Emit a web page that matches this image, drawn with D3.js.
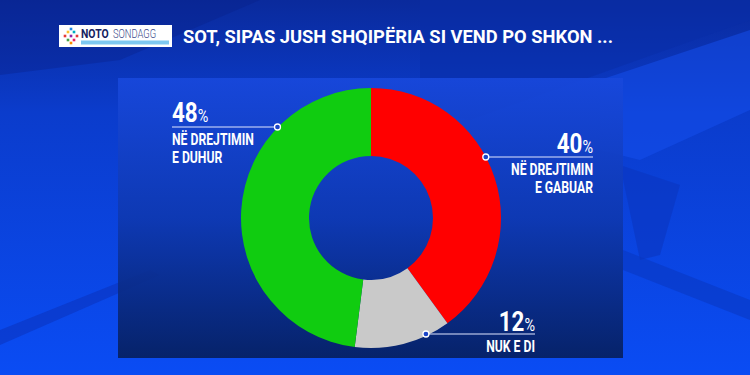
<!DOCTYPE html>
<html>
<head>
<meta charset="utf-8">
<script src="https://cdn.jsdelivr.net/npm/d3@7"></script>
<style>
  body { margin: 0; background: #0b40d8; }
  svg { display: block; }
  .cond { font-family: Roboto, "Noto Sans", sans-serif; font-weight: bold; }
</style>
</head>
<body>
<div id="chart"></div>
<script>
// chart data
var categories = ['NË DREJTIMIN E GABUAR', 'NUK E DI', 'NË DREJTIMIN E DUHUR'];
var values = [40, 12, 48];
var colors = ['#ff0000', '#c9c9c9', '#10cc10'];
var labelLines = [['NË DREJTIMIN', 'E GABUAR'], ['NUK E DI'], ['NË DREJTIMIN', 'E DUHUR']];
var title = 'SOT, SIPAS JUSH SHQIPËRIA SI VEND PO SHKON ...';

var svgWidth = 750;
var svgHeight = 375;

var svg = d3.select('#chart')
    .append('svg')
    .attr('width', svgWidth)
    .attr('height', svgHeight);

var defs = svg.append('defs');

// background gradient
var bg = defs.append('linearGradient').attr('id', 'bg')
    .attr('x1', 0).attr('y1', 0).attr('x2', 0).attr('y2', 1);
bg.append('stop').attr('offset', '0%').attr('stop-color', '#0a2a9c');
bg.append('stop').attr('offset', '30%').attr('stop-color', '#0b3ccc');
bg.append('stop').attr('offset', '100%').attr('stop-color', '#0a4cf4');

var panelGrad = defs.append('linearGradient').attr('id', 'panel')
    .attr('x1', 0).attr('y1', 0).attr('x2', 0).attr('y2', 1);
panelGrad.append('stop').attr('offset', '0%').attr('stop-color', '#1848dc');
panelGrad.append('stop').attr('offset', '50%').attr('stop-color', '#0e38b0');
panelGrad.append('stop').attr('offset', '100%').attr('stop-color', '#061f5e');

svg.append('rect')
    .attr('width', svgWidth)
    .attr('height', svgHeight)
    .attr('fill', 'url(#bg)');

// background shapes (studio backdrop)
var shapes = [
    { pts: [[420, 0], [750, 0], [750, 20], [470, 120], [420, 110]], fill: '#0a2ea8', op: 0.55 },
    { pts: [[600, 80], [750, 30], [750, 110], [640, 160], [600, 150]], fill: '#1550f0', op: 0.5 },
    { pts: [[620, 165], [680, 185], [660, 255], [640, 260]], fill: '#0a36c0', op: 0.6 },
    { pts: [[0, 330], [150, 270], [160, 275], [0, 345]], fill: '#0930b8', op: 0.5 },
    { pts: [[623, 250], [750, 300], [750, 320], [623, 270]], fill: '#0a36c0', op: 0.55 },
    { pts: [[0, 0], [260, 0], [120, 60], [0, 75]], fill: '#081f88', op: 0.35 }
];
svg.selectAll('.bgshape')
    .data(shapes)
    .enter()
    .append('polygon')
    .attr('class', 'bgshape')
    .attr('points', d => d.pts.map(p => p.join(',')).join(' '))
    .attr('fill', d => d.fill)
    .attr('opacity', d => d.op);

// panel
svg.append('rect')
    .attr('x', 118)
    .attr('y', 78)
    .attr('width', 505)
    .attr('height', 280)
    .attr('fill', 'url(#panel)')
    .attr('opacity', 0.92);

// squeeze text horizontally around its anchor (condensed tv font)
function condense(sel, x, y, k) {
    sel.attr('x', 0).attr('y', 0)
        .attr('transform', `translate(${x}, ${y}) scale(${k}, 1)`);
}

// logo
var logo = svg.append('g').attr('transform', 'translate(59, 25)');
logo.append('rect').attr('width', 113).attr('height', 22).attr('fill', '#ffffff');
var dotColors = ['#e53935', '#fbc02d', '#43a047', '#1e88e5', '#8e24aa', '#fb8c00', '#00acc1', '#e91e63'];
var dotPos = [[6, 11], [9, 7], [9, 15], [12, 4], [12, 11], [12, 18], [15, 7], [15, 15], [18, 11]];
logo.selectAll('.dot')
    .data(dotPos)
    .enter()
    .append('rect')
    .attr('x', d => d[0] - 1.3)
    .attr('y', d => d[1] - 1.3)
    .attr('width', 2.6)
    .attr('height', 2.6)
    .attr('fill', (d, i) => dotColors[i % dotColors.length]);
logo.append('text')
    .attr('class', 'cond')
    .attr('font-size', 13)
    .attr('fill', '#14215e')
    .text('NOTO')
    .call(condense, 22, 13, 0.8);
logo.append('text')
    .attr('font-family', 'Roboto, sans-serif')
    .attr('font-weight', 300)
    .attr('font-size', 13)
    .attr('fill', '#3a4a8a')
    .text('SONDAGG')
    .call(condense, 54, 13, 0.72);
logo.append('rect').attr('x', 22).attr('y', 15.5).attr('width', 88).attr('height', 4).attr('fill', '#7ec8f0');

// title
svg.append('text')
    .attr('x', 183)
    .attr('y', 43)
    .attr('class', 'cond')
    .attr('font-size', 18)
    .attr('fill', '#ffffff')
    .attr('textLength', 430)
    .attr('lengthAdjust', 'spacingAndGlyphs')
    .text(title);

// donut
var cx = 371, cy = 218;
var outerR = 130, innerR = 62;

var pie = d3.pie().sort(null).value(d => d);
var arc = d3.arc().innerRadius(innerR).outerRadius(outerR);
var arcs = pie(values);

var chartGroup = svg.append('g')
    .attr('transform', `translate(${cx}, ${cy})`);

chartGroup.selectAll('path')
    .data(arcs)
    .enter()
    .append('path')
    .attr('d', arc)
    .attr('fill', (d, i) => colors[i]);

// label layout: anchor angle (deg, clockwise from top), line end x, text side
var labelLayout = [
    { angle: 62, lineX: 593, align: 'end', valueY: 153, lineY: 157 },
    { angle: 155, lineX: 535, align: 'end', valueY: 331, lineY: 334 },
    { angle: 314, lineX: 172, align: 'start', valueY: 122, lineY: 127 }
];

var labels = svg.selectAll('.lbl')
    .data(arcs)
    .enter()
    .append('g')
    .attr('class', 'lbl');

labels.each(function (d, i) {
    var g = d3.select(this);
    var lay = labelLayout[i];
    var a = lay.angle * Math.PI / 180;
    var px = cx + outerR * Math.sin(a);
    var tx = lay.lineX;

    g.append('line')
        .attr('x1', px).attr('y1', lay.lineY)
        .attr('x2', tx).attr('y2', lay.lineY)
        .attr('stroke', '#dfe6ff')
        .attr('stroke-width', 1.2);
    g.append('circle')
        .attr('cx', px).attr('cy', lay.lineY)
        .attr('r', 3)
        .attr('fill', '#1a44c8')
        .attr('stroke', '#ffffff')
        .attr('stroke-width', 1.3);

    var v = g.append('text')
        .attr('text-anchor', lay.align)
        .attr('class', 'cond')
        .attr('fill', '#ffffff');
    v.append('tspan').attr('font-size', 28).text(values[i]);
    v.append('tspan').attr('font-size', 18).attr('font-weight', 'normal').text('%');
    v.call(condense, tx, lay.valueY, 0.8);

    labelLines[i].forEach(function (t, j) {
        g.append('text')
            .attr('text-anchor', lay.align)
            .attr('class', 'cond')
            .attr('font-size', 16.5)
            .attr('fill', '#ffffff')
            .text(t)
            .call(condense, tx, lay.lineY + 18 + j * 17.5, 0.74);
    });
});
</script>
</body>
</html>
